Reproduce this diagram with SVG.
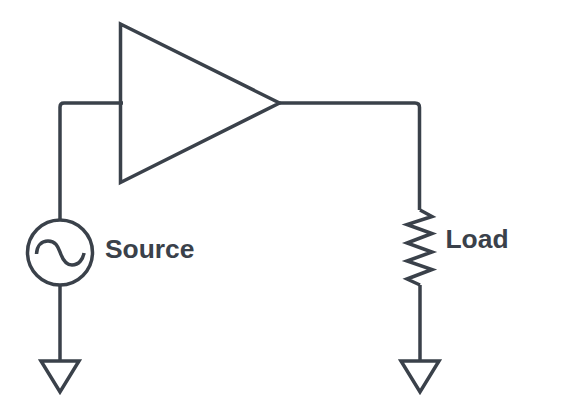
<svg xmlns="http://www.w3.org/2000/svg" width="580" height="415" viewBox="0 0 580 415">
<style>
.s{fill:none;stroke:#3a414a;stroke-width:3.500;stroke-linejoin:miter}
.t{font-family:"Liberation Sans",Arial,sans-serif;font-weight:700;font-size:26.400px;fill:#3a414a}
</style>
<rect width="580" height="415" fill="#fff"/>
<g id="connectors" class="s">
<path d="M123 103H64Q60 103 60 107V220"/>
<path d="M279 103H415Q419.500 103 419.500 107.500V210"/>
<path d="M60 285V361"/>
<path d="M420 285V361"/>
</g>
<g id="amplifier"><path class="s" d="M120.500 24L279.500 103L120.500 182.500Z"/></g>
<g id="source">
<circle class="s" cx="60" cy="252.500" r="32.500"/>
<path class="s" d="M36.500 254C37 245 42 241 48 241C56 241 58 247 60 252C62 258 65 265 72 265C79 265 83 259 84 253"/>
<text class="t" x="105" y="258">Source</text>
</g>
<g id="load">
<path class="s" d="M420 210L432 216.500L407 224.500L432 233.500L407 243L432 252L407 261L432 269.500L407 279L420 285"/>
<text class="t" x="445.500" y="248">Load</text>
</g>
<g id="ground-source"><path class="s" d="M41 361H79L60 392Z"/></g>
<g id="ground-load"><path class="s" d="M401 361H439L420 392Z"/></g>
</svg>
